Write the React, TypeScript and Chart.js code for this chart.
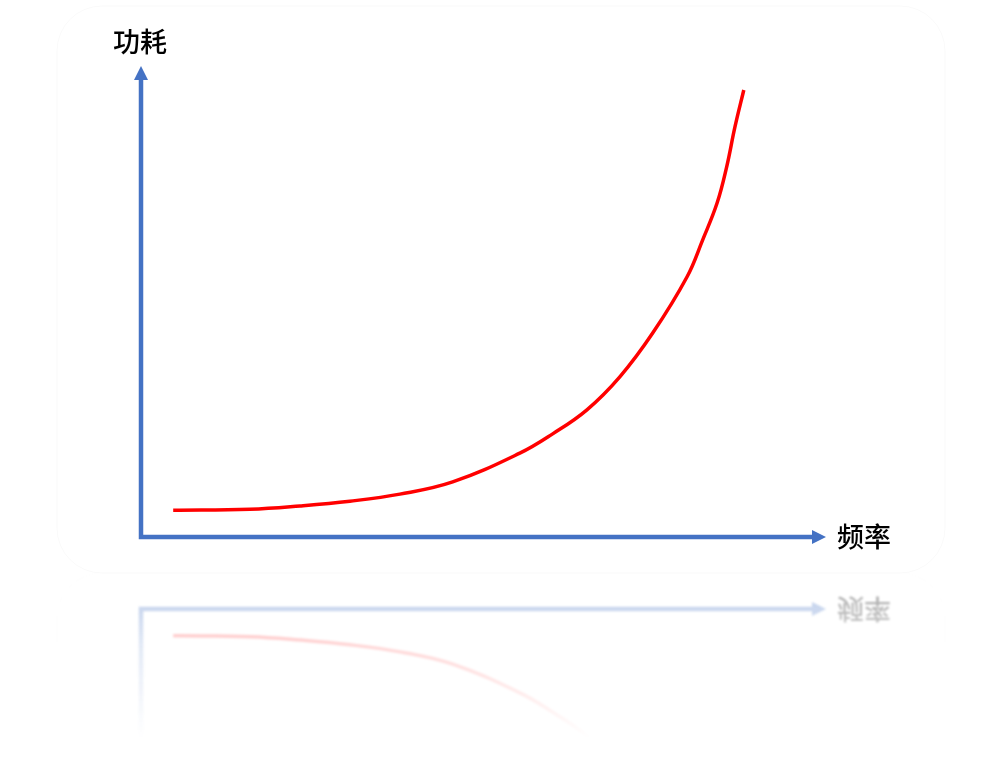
import React, { useEffect, useRef } from "react";
import Chart from "chart.js/auto";

// frequency (x) and power (y), arbitrary units 0..100
const frequency = [4.7, 15.9, 23.2, 30.5, 37.8, 45.5, 55.3, 60.1, 65.1, 69.9, 74.7, 79.7, 82.0, 84.1, 85.5, 86.7, 88.0];
const power = [5.7, 5.9, 6.6, 7.6, 9.1, 11.7, 17.8, 21.9, 27.0, 34.0, 43.3, 55.2, 63.1, 70.9, 78.6, 87.0, 94.9];

const xAxisLabel = "频率";
const yAxisLabel = "功耗";

const AXIS_COLOR = "#4472C4";
const CURVE_COLOR = "#FF0000";
const FONT = '"Noto Sans CJK SC", "Noto Sans", sans-serif';
const MIRROR_Y = 573;
const REFLECT_H = 165;

const axesPlugin = {
  id: "arrowAxes",
  beforeDatasetsDraw(chart: any) {
    const { ctx, scales } = chart;
    const x0 = scales.x.getPixelForValue(0);
    const xEnd = scales.x.getPixelForValue(100);
    const y0 = scales.y.getPixelForValue(0);
    const yEnd = scales.y.getPixelForValue(100);
    const head = 14;
    const half = 7;

    ctx.save();
    // very faint rounded frame
    ctx.strokeStyle = "rgba(0,0,0,0.025)";
    ctx.lineWidth = 1;
    ctx.beginPath();
    ctx.roundRect(57, 6, 888, MIRROR_Y - 6, 45);
    ctx.stroke();

    ctx.strokeStyle = AXIS_COLOR;
    ctx.fillStyle = AXIS_COLOR;
    ctx.lineWidth = 4.5;
    ctx.lineJoin = "miter";
    ctx.beginPath();
    ctx.moveTo(x0, yEnd + head - 1);
    ctx.lineTo(x0, y0);
    ctx.lineTo(xEnd - head + 1, y0);
    ctx.stroke();

    ctx.beginPath();
    ctx.moveTo(x0, yEnd);
    ctx.lineTo(x0 - half, yEnd + head);
    ctx.lineTo(x0 + half, yEnd + head);
    ctx.closePath();
    ctx.fill();

    ctx.beginPath();
    ctx.moveTo(xEnd, y0);
    ctx.lineTo(xEnd - head, y0 - half);
    ctx.lineTo(xEnd - head, y0 + half);
    ctx.closePath();
    ctx.fill();

    ctx.fillStyle = "#000000";
    ctx.font = `500 27px ${FONT}`;
    ctx.textBaseline = "middle";
    ctx.textAlign = "center";
    ctx.fillText(yAxisLabel, x0 - 1, yEnd - 24);
    ctx.textAlign = "left";
    ctx.fillText(xAxisLabel, xEnd + 11, y0);
    ctx.restore();
  },
};

const reflectionPlugin = {
  id: "reflection",
  afterDraw(chart: any) {
    const { ctx, canvas } = chart;
    const r = chart.currentDevicePixelRatio || 1;
    const h = Math.round(REFLECT_H * r);
    const top = Math.round((MIRROR_Y - REFLECT_H) * r);

    const off = document.createElement("canvas");
    off.width = canvas.width;
    off.height = h;
    const o = off.getContext("2d");
    if (!o) return;
    o.save();
    o.translate(0, h);
    o.scale(1, -1);
    o.drawImage(canvas, 0, top, canvas.width, h, 0, 0, canvas.width, h);
    o.restore();
    o.globalCompositeOperation = "destination-in";
    const g = o.createLinearGradient(0, 0, 0, h);
    g.addColorStop(0, "rgba(0,0,0,0.4)");
    g.addColorStop(0.45, "rgba(0,0,0,0.15)");
    g.addColorStop(1, "rgba(0,0,0,0)");
    o.fillStyle = g;
    o.fillRect(0, 0, off.width, h);

    ctx.save();
    ctx.setTransform(1, 0, 0, 1, 0, 0);
    ctx.filter = "blur(1px)";
    ctx.drawImage(off, 0, Math.round(MIRROR_Y * r));
    ctx.restore();
  },
};

const App: React.FC = () => {
  const canvasRef = useRef<HTMLCanvasElement>(null);

  useEffect(() => {
    const ctx = canvasRef.current?.getContext("2d");
    if (!ctx) return;

    const chart = new Chart(ctx, {
      type: "line",
      data: {
        datasets: [
          {
            label: "功耗",
            data: frequency.map((f, i) => ({ x: f, y: power[i] })),
            borderColor: CURVE_COLOR,
            borderWidth: 3.5,
            pointRadius: 0,
            fill: false,
            tension: 0.4,
          },
        ],
      },
      options: {
        animation: false,
        responsive: true,
        maintainAspectRatio: false,
        layout: {
          padding: { left: 141, top: 66, right: 169, bottom: 221 },
        },
        scales: {
          x: { type: "linear", min: 0, max: 100, display: false },
          y: { type: "linear", min: 0, max: 100, display: false },
        },
        plugins: {
          legend: { display: false },
          tooltip: { enabled: false },
        },
      },
      plugins: [axesPlugin, reflectionPlugin],
    });

    return () => {
      chart.destroy();
    };
  }, []);

  return (
    <div style={{ position: "fixed", left: 0, top: 0, width: 995, height: 758, background: "#ffffff" }}>
      <canvas ref={canvasRef}></canvas>
    </div>
  );
};

export default App;
